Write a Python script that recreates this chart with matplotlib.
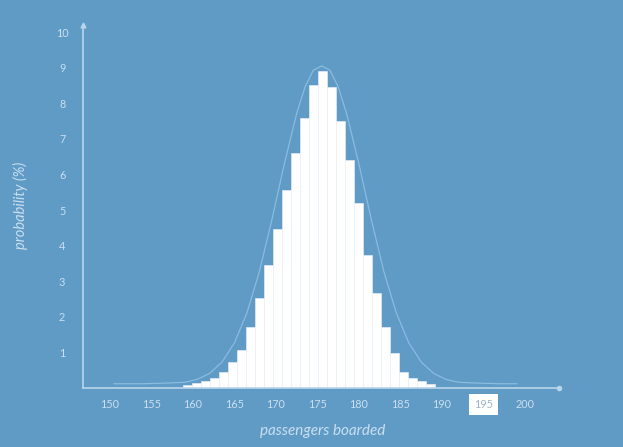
import numpy as np
import matplotlib
matplotlib.use("Agg")
import matplotlib.pyplot as plt

# ---- data ----
bar_heights = [0.08, 0.13, 0.19, 0.28, 0.46, 0.74, 1.07, 1.72, 2.52, 3.46,
               4.46, 5.56, 6.60, 7.60, 8.50, 8.90, 8.46, 7.50, 6.40, 5.20,
               3.74, 2.67, 1.72, 0.98, 0.46, 0.28, 0.19, 0.12]
curve_x = [150.5, 154, 157, 159, 160.5, 162, 163.5, 165, 166.5, 168, 169.5,
           171, 172.5, 173.5, 174.5, 175.5, 176.5, 177.5, 178.5, 180, 181.5,
           183, 184.5, 186, 187.5, 189, 190.5, 192, 194, 197, 199]
curve_y = [0.12, 0.12, 0.14, 0.16, 0.24, 0.41, 0.73, 1.27, 2.11, 3.27, 4.72,
           6.29, 7.72, 8.46, 8.93, 9.05, 8.93, 8.46, 7.72, 6.29, 4.72,
           3.27, 2.11, 1.27, 0.73, 0.41, 0.24, 0.16, 0.14, 0.12, 0.12]
x_ticks = [150, 155, 160, 165, 170, 175, 180, 185, 190, 195, 200]
y_ticks = [1, 2, 3, 4, 5, 6, 7, 8, 9, 10]
highlight_tick = 195

# ---- style ----
BG = "#609bc6"
AXIS = "#b9d5eb"
TXT = "#c9dff0"
CURVE = "#8abbe0"

fig = plt.figure(figsize=(6.23, 4.47), dpi=100, facecolor=BG)
ax = fig.add_axes([83 / 623, 59 / 447, (559 - 83) / 623, (388 - 25) / 447])
ax.set_facecolor(BG)

bar_start = 158.8
bar_w = 1.084
xs = bar_start + np.arange(len(bar_heights)) * bar_w
ax.plot(curve_x, curve_y, color=CURVE, lw=0.9, zorder=1)
ax.bar(xs, bar_heights, width=bar_w, align="edge", color="white",
       edgecolor="#eef2f6", linewidth=0.4, zorder=2)

ax.set_xlim(146.75, 204.1)
ax.set_ylim(0, 10.2)

for s in ["top", "right"]:
    ax.spines[s].set_visible(False)
for s in ["left", "bottom"]:
    ax.spines[s].set_color(AXIS)
    ax.spines[s].set_linewidth(1.2)
    ax.spines[s].set_zorder(3)

ax.plot([0], [1], marker="^", ms=3.5, color=AXIS, transform=ax.transAxes,
        clip_on=False, zorder=4)
ax.plot([1], [0], marker="o", ms=3, color=AXIS, transform=ax.transAxes,
        clip_on=False, zorder=4)

ax.set_xticks(x_ticks)
ax.set_xticklabels([str(t) for t in x_ticks])
ax.set_yticks(y_ticks)
ax.set_yticklabels([str(t) for t in y_ticks])
ax.tick_params(axis="both", length=0, colors=TXT, labelsize=7.8)
ax.tick_params(axis="x", pad=8)
ax.tick_params(axis="y", pad=15)
for lab in ax.get_xticklabels() + ax.get_yticklabels():
    lab.set_family("Lato")
    lab.set_horizontalalignment("center")
for t, lab in zip(x_ticks, ax.get_xticklabels()):
    if t == highlight_tick:
        lab.set_color("#9fb4c6")
        lab.set_bbox(dict(facecolor="white", edgecolor="none", pad=3.5))

fig.text(323 / 623, 1 - 431 / 447, "passengers boarded", ha="center",
         va="center", color=TXT, fontsize=11, style="italic", family="Lato")
fig.text(20 / 623, 1 - 205 / 447, "probability (%)", ha="center",
         va="center", rotation=90, color=TXT, fontsize=10.5,
         style="italic", family="Lato")

fig.savefig("out.png", dpi=100, facecolor=BG)
